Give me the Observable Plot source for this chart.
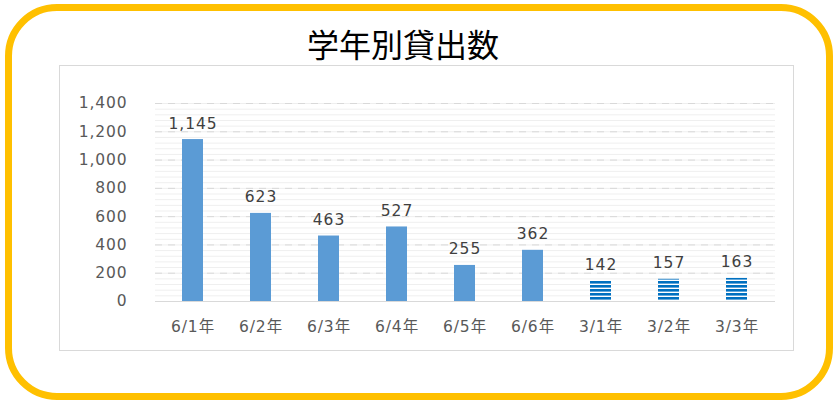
<!DOCTYPE html>
<html>
<head>
<meta charset="utf-8">
<script src="https://cdn.jsdelivr.net/npm/d3@7"></script>
<script src="https://cdn.jsdelivr.net/npm/@observablehq/plot@0.6"></script>
<style>
  html, body { margin: 0; padding: 0; background: #fff; }
  #wrap { position: relative; width: 835px; height: 405px; overflow: hidden; }
  #border { position: absolute; left: 5px; top: 4px; width: 828px; height: 396px; box-sizing: border-box;
            border: 7px solid #FFC000; border-radius: 52px; }
  #frame { position: absolute; left: 59px; top: 65px; width: 735px; height: 286px; box-sizing: border-box;
           border: 1.5px solid #D9D9D9; }
  #title { position: absolute; left: 0; width: 806px; top: 22px; text-align: center;
           font-family: "Noto Sans CJK JP", sans-serif; font-size: 32px; font-weight: 400; color: #000; line-height: 42px; }
  #chart { position: absolute; left: 0; top: 80px; }
</style>
</head>
<body>
<div id="wrap">
  <div id="border"></div>
  <div id="frame"></div>
  <div id="title">学年別貸出数</div>
  <div id="chart"></div>
</div>
<script>
const categories = ["6/1年", "6/2年", "6/3年", "6/4年", "6/5年", "6/6年", "3/1年", "3/2年", "3/3年"];
const values = [1145, 623, 463, 527, 255, 362, 142, 157, 163];
const groups = ["6", "6", "6", "6", "6", "6", "3", "3", "3"];
const yTicks = [0, 200, 400, 600, 800, 1000, 1200, 1400];
const minorTicks = d3.range(0, 1401, 40);

const data = categories.map((c, i) => ({ cat: c, value: values[i], group: groups[i] }));
const fmt = d3.format(",");
const font = "DejaVu Sans, Noto Sans CJK JP, sans-serif";
const fs = 15.5;

const plot = Plot.plot({
  width: 835,
  height: 270,
  marginTop: 23,
  marginBottom: 49,
  marginLeft: 155,
  marginRight: 60,
  style: { fontFamily: font, fontSize: fs + "px", background: "transparent", overflow: "visible" },
  x: { domain: categories, paddingInner: 0.69, paddingOuter: 0.345, label: null },
  y: { domain: [0, 1400], label: null },
  marks: [
    Plot.ruleY(minorTicks, { stroke: "#EFEFEF", strokeWidth: 1 }),
    Plot.ruleY(yTicks.filter(d => d > 0), { stroke: "#D9D9D9", strokeWidth: 1, strokeDasharray: "7,6" }),
    Plot.barY(data.filter(d => d.group === "6"), { x: "cat", y: "value", fill: "#5B9BD5" }),
    Plot.barY(data.filter(d => d.group === "3"), { x: "cat", y: "value", fill: "url(#stripes)" }),
    Plot.ruleY([0], { stroke: "#D9D9D9", strokeWidth: 1.2 }),
    Plot.text(data, { x: "cat", y: "value", text: d => fmt(d.value), dy: -16, fill: "#404040",
                      fontSize: fs, fontFamily: font }),
    Plot.axisY({ ticks: yTicks, tickSize: 0, tickPadding: 28, tickFormat: fmt, color: "#595959",
                 fontSize: fs, label: null }),
    Plot.axisX({ tickSize: 0, tickPadding: 19, color: "#595959", fontSize: fs, label: null })
  ]
});

const svg = d3.select(plot);
const defs = svg.insert("defs", ":first-child");
const pat = defs.append("pattern").attr("id", "stripes").attr("patternUnits", "userSpaceOnUse")
  .attr("x", 0).attr("y", 1).attr("width", 8).attr("height", 4);
pat.append("rect").attr("width", 8).attr("height", 4).attr("fill", "#FFFFFF");
pat.append("rect").attr("width", 8).attr("height", 2.6).attr("fill", "#0070C0");
svg.selectAll("text").style("letter-spacing", "0.9px");

document.getElementById("chart").appendChild(plot);
</script>
</body>
</html>
